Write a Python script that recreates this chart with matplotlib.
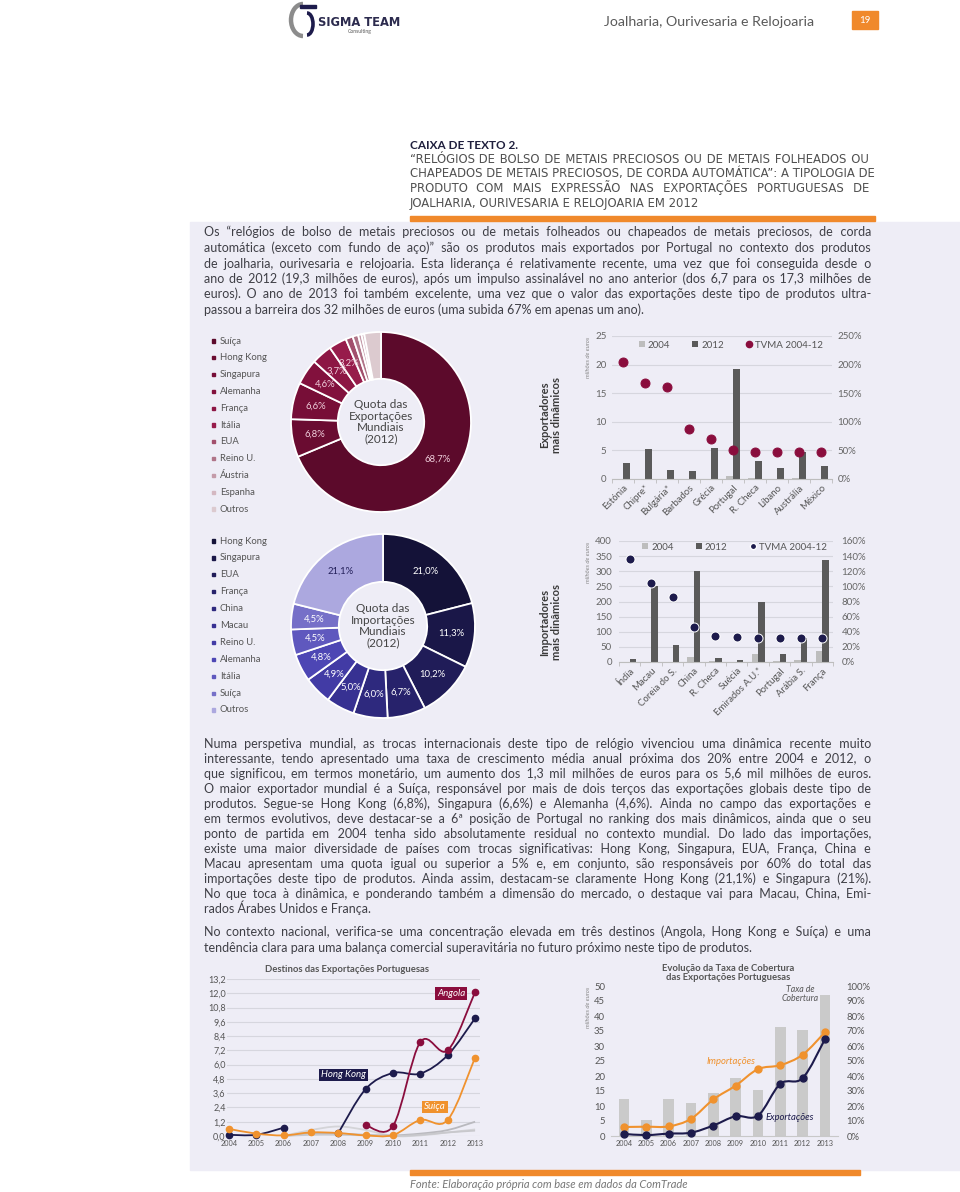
import numpy as np
import matplotlib
matplotlib.use('Agg')
import matplotlib.pyplot as plt
from matplotlib.patches import Rectangle, Arc, PathPatch, Patch
from matplotlib.path import Path
from matplotlib.lines import Line2D
from matplotlib.font_manager import FontProperties

W, H = 960, 1192
nan = np.nan

# ---------------- data ----------------
exp_share_names = ['Suíça', 'Hong Kong', 'Singapura', 'Alemanha', 'França', 'Itália',
                   'EUA', 'Reino U.', 'Áustria', 'Espanha', 'Outros']
exp_share_vals = [68.7, 6.8, 6.6, 4.6, 3.7, 3.2, 1.3, 1.0, 0.6, 0.5, 3.0]
exp_share_labels = ['68,7%', '6,8%', '6,6%', '4,6%', '3,7%', '3,2%', '', '', '', '', '']

imp_share_names = ['Hong Kong', 'Singapura', 'EUA', 'França', 'China', 'Macau',
                   'Reino U.', 'Alemanha', 'Itália', 'Suíça', 'Outros']
imp_share_vals = [21.0, 11.3, 10.2, 6.7, 6.0, 5.0, 4.9, 4.8, 4.5, 4.5, 21.1]
imp_share_labels = ['21,0%', '11,3%', '10,2%', '6,7%', '6,0%', '5,0%',
                    '4,9%', '4,8%', '4,5%', '4,5%', '21,1%']

exp_countries = ['Estónia', 'Chipre*', 'Bulgária*', 'Barbados', 'Grécia', 'Portugal',
                 'R. Checa', 'Líbano', 'Austrália', 'México']
exp_2004 = [0.0, 0.0, 0.0, 0.0, 0.05, 0.6, 0.1, 0.0, 0.15, 0.05]
exp_2012 = [2.8, 5.2, 1.5, 1.4, 5.4, 19.3, 3.2, 1.9, 4.8, 2.3]
exp_tvma = [204, 167, 160, 87, 70, 51, 48, 48, 48, 48]

imp_countries = ['Índia', 'Macau', 'Coreia do S.', 'China', 'R. Checa', 'Suécia',
                 'Emirados A.U.*', 'Portugal', 'Arábia S.', 'França']
imp_2004 = [1, 0, 0, 15, 2, 1, 28, 2, 8, 37]
imp_2012 = [10, 250, 57, 300, 12, 7, 200, 28, 78, 337]
imp_tvma = [136, 105, 86, 46, 35, 33, 32, 32, 32, 32]

years = list(range(2004, 2014))
dest_hk = [0.1, 0.1, 0.7, nan, 0.25, 3.95, 5.3, 5.25, 6.8, 9.9]
dest_angola = [nan, nan, nan, nan, nan, 0.9, 0.85, 7.9, 7.2, 12.1]
dest_suica = [0.6, 0.2, 0.05, 0.3, 0.25, 0.05, 0.08, 1.35, 1.35, 6.6]
dest_other1 = [nan, nan, 0.0, 0.5, 0.8, 0.5, 0.0, 0.05, 0.3, 0.55]
dest_other2 = [nan, nan, 0.0, 0.2, 0.2, 0.1, 0.05, 0.2, 0.5, 1.2]
dest_other3 = [nan, nan, 0.0, 0.1, 0.1, 0.05, 0.0, 0.1, 0.3, 0.45]

cob_rate = [25, 11, 25, 22, 29, 39, 31, 73, 71, 94]
cob_imp = [3.0, 3.1, 3.2, 5.7, 12.2, 16.8, 22.3, 23.6, 27.1, 34.6]
cob_exp = [0.7, 0.3, 0.8, 1.1, 3.5, 6.6, 6.8, 17.4, 19.3, 32.3]

# ---------------- text ----------------
title_lines = [
    '“RELÓGIOS DE BOLSO DE METAIS PRECIOSOS OU DE METAIS FOLHEADOS OU',
    'CHAPEADOS DE METAIS PRECIOSOS, DE CORDA AUTOMÁTICA”: A TIPOLOGIA DE',
    'PRODUTO COM MAIS EXPRESSÃO NAS EXPORTAÇÕES PORTUGUESAS DE',
    'JOALHARIA, OURIVESARIA E RELOJOARIA EM 2012',
]
para1 = [
    'Os “relógios de bolso de metais preciosos ou de metais folheados ou chapeados de metais preciosos, de corda',
    'automática (exceto com fundo de aço)” são os produtos mais exportados por Portugal no contexto dos produtos',
    'de joalharia, ourivesaria e relojoaria. Esta liderança é relativamente recente, uma vez que foi conseguida desde o',
    'ano de 2012 (19,3 milhões de euros), após um impulso assinalável no ano anterior (dos 6,7 para os 17,3 milhões de',
    'euros). O ano de 2013 foi também excelente, uma vez que o valor das exportações deste tipo de produtos ultra-',
    'passou a barreira dos 32 milhões de euros (uma subida 67% em apenas um ano).',
]
para2 = [
    'Numa perspetiva mundial, as trocas internacionais deste tipo de relógio vivenciou uma dinâmica recente muito',
    'interessante, tendo apresentado uma taxa de crescimento média anual próxima dos 20% entre 2004 e 2012, o',
    'que significou, em termos monetário, um aumento dos 1,3 mil milhões de euros para os 5,6 mil milhões de euros.',
    'O maior exportador mundial é a Suíça, responsável por mais de dois terços das exportações globais deste tipo de',
    'produtos. Segue-se Hong Kong (6,8%), Singapura (6,6%) e Alemanha (4,6%). Ainda no campo das exportações e',
    'em termos evolutivos, deve destacar-se a 6ª posição de Portugal no ranking dos mais dinâmicos, ainda que o seu',
    'ponto de partida em 2004 tenha sido absolutamente residual no contexto mundial. Do lado das importações,',
    'existe uma maior diversidade de países com trocas significativas: Hong Kong, Singapura, EUA, França, China e',
    'Macau apresentam uma quota igual ou superior a 5% e, em conjunto, são responsáveis por 60% do total das',
    'importações deste tipo de produtos. Ainda assim, destacam-se claramente Hong Kong (21,1%) e Singapura (21%).',
    'No que toca à dinâmica, e ponderando também a dimensão do mercado, o destaque vai para Macau, China, Emi-',
    'rados Árabes Unidos e França.',
]
para3 = [
    'No contexto nacional, verifica-se uma concentração elevada em três destinos (Angola, Hong Kong e Suíça) e uma',
    'tendência clara para uma balança comercial superavitária no futuro próximo neste tipo de produtos.',
]

# ---------------- colours ----------------
lavender = '#eeedf6'
orange = '#f0892b'
navy = '#1d1b4c'
maroon = '#8a0d3d'
txt = '#3f3f46'
grid_c = '#d6d6de'
exp_colors = ['#5c0a2b', '#6a0c31', '#770e37', '#82113d', '#8d1644', '#971c4b',
              '#a24f6c', '#b07488', '#c49ba9', '#d4b8c1', '#dccacf']
imp_colors = ['#141238', '#1a1748', '#201c58', '#27226b', '#2e297e', '#373192',
              '#423ba5', '#4d46b4', '#5f58be', '#7670c8', '#aca8df']
imp_label_c = ['#ffffff'] * 10 + ['#23205a']

fig = plt.figure(figsize=(W / 100, H / 100), dpi=100)
fig.patch.set_facecolor('white')
bg = fig.add_axes([0, 0, 1, 1])
bg.set_xlim(0, W)
bg.set_ylim(H, 0)
bg.axis('off')
renderer = fig.canvas.get_renderer()
HAIR = '\u200a'


def px_axes(x0, y0, x1, y1):
    ax = fig.add_axes([x0 / W, 1 - y1 / H, (x1 - x0) / W, (y1 - y0) / H])
    ax.set_facecolor('none')
    return ax


def text_w(s, fp):
    w, h, d = renderer.get_text_width_height_descent(s, fp, ismath=False)
    return w


def paragraph(lines, x0, x1, y0, dy, fp, color):
    # justified lines (space padded with hair spaces), last line left aligned
    hw = (text_w('a' + HAIR * 20 + 'a', fp) - text_w('aa', fp)) / 20
    for i, line in enumerate(lines):
        y = y0 + i * dy
        out = line
        if i < len(lines) - 1 and hw > 0.2:
            words = line.split(' ')
            n = len(words) - 1
            extra = max(0, int(round((x1 - x0 - text_w(line, fp)) / hw)))
            out = words[0]
            for k in range(n):
                cnt = extra * (k + 1) // n - extra * k // n
                out += ' ' + HAIR * cnt + words[k + 1]
        bg.text(x0, y, out, fontproperties=fp, color=color, va='baseline', ha='left')


# ---------------- page furniture ----------------
bg.add_patch(Rectangle((190, 222), W - 190, 948, color=lavender, zorder=0))
bg.add_patch(Rectangle((410, 216), 465, 5, color=orange, zorder=1))
bg.add_patch(Rectangle((410, 1170), 450, 5, color=orange, zorder=1))
bg.add_patch(Rectangle((852, 11), 26, 18, color=orange, zorder=1))
bg.text(865, 20.5, '19', color='white', fontsize=7, ha='center', va='center', family='Lato')
bg.text(604, 22, 'Joalharia, Ourivesaria e Relojoaria', color='#5a5a5a', fontsize=10.2,
        family='Lato', va='center')

# logo
bg.add_patch(Arc((303, 20), 24, 32, theta1=90, theta2=270, lw=3.2, color='#8c8c8c'))
bg.add_patch(Rectangle((300, 5), 16, 3, color=navy))
bg.add_patch(Arc((307, 24), 12, 22, theta1=-90, theta2=90, lw=2.6, color=navy))
bg.text(318, 26, 'SIGMA TEAM', color='#2c2b4e', fontsize=8.3, weight='bold',
        family='Liberation Sans Narrow', va='baseline')
bg.text(372, 33, 'Consulting', color='#555555', fontsize=3.6, family='Lato', ha='right',
        va='baseline')

bg.text(410, 149, 'CAIXA DE TEXTO 2.', color='#1f1f3d', fontsize=8.5, weight='bold',
        family='Lato', va='baseline')
title_fp = FontProperties(family=['Liberation Sans Narrow', 'DejaVu Sans'], size=8.4)
paragraph(title_lines, 410, 869, 163, 14.5, title_fp, '#505050')

body_fp = FontProperties(family=['Lato', 'DejaVu Sans'], size=9)
paragraph(para1, 204, 871, 236.5, 15.5, body_fp, txt)
paragraph(para2, 204, 871, 748.5, 14.95, body_fp, txt)
paragraph(para3, 204, 871, 936, 15.5, body_fp, txt)

bg.text(410, 1185, 'Fonte: Elaboração própria com base em dados da ComTrade', color='#777777',
        fontsize=8, style='italic', family='Lato', va='center')


# ---------------- donuts ----------------
def donut(cx, cy, r, vals, colors, labels, label_colors, center_text):
    ax = px_axes(cx - r, cy - r, cx + r, cy + r)
    wedges, _ = ax.pie(vals, colors=colors, startangle=90, counterclock=False, radius=1,
                       wedgeprops=dict(width=0.52, edgecolor='white', linewidth=1.3))
    for w in wedges:
        w.set_clip_on(False)
    ax.set_xlim(-1, 1)
    ax.set_ylim(-1, 1)
    ax.set_aspect('equal')
    ax.axis('off')
    for w, lab, lc in zip(wedges, labels, label_colors):
        if not lab:
            continue
        ang = np.deg2rad((w.theta1 + w.theta2) / 2)
        ax.text(0.75 * np.cos(ang), 0.75 * np.sin(ang), lab, color=lc, fontsize=6.8,
                ha='center', va='center', family='Lato')
    ax.text(0, 0, center_text, ha='center', va='center', fontsize=8.5, color='#444444',
            family='Lato', linespacing=1.05)


def legend_list(names, colors, x, y0, dy):
    for i, (n, c) in enumerate(zip(names, colors)):
        y = y0 + i * dy
        bg.add_patch(Rectangle((x, y - 1.6), 3.2, 3.2, color=c, zorder=2))
        bg.text(x + 8, y, n, color='#555555', fontsize=6.8, family='Lato', va='center')


donut(381, 422, 90, exp_share_vals, exp_colors, exp_share_labels,
      ['#f0cfdc'] * 11, 'Quota das\nExportações\nMundiais\n(2012)')
legend_list(exp_share_names, exp_colors, 212, 341, 16.8)

donut(383, 626, 92, imp_share_vals, imp_colors, imp_share_labels, imp_label_c,
      'Quota das\nImportações\nMundiais\n(2012)')
legend_list(imp_share_names, imp_colors, 212, 541, 16.9)


# ---------------- bar charts ----------------
def bar_chart(box, cats, v04, v12, tvma, ymax, ystep, pmax, pstep, dot_c, dot_edge,
              leg_y, side_label, side_y, pad_l, pad_r):
    ax = px_axes(*box)
    x = np.arange(len(cats))
    bw = 0.3
    ax.bar(x - bw, v04, bw, align='edge', color='#bdbdbd', zorder=2)
    ax.bar(x, v12, bw, align='edge', color='#5a5a5a', zorder=2)
    ax.set_xlim(-0.5, len(cats) - 0.5)
    ax.set_ylim(0, ymax)
    ax.set_yticks(np.arange(0, ymax + 0.1, ystep))
    ax.grid(axis='y', color=grid_c, lw=0.8)
    ax.set_axisbelow(True)
    for s in ['top', 'right', 'left']:
        ax.spines[s].set_visible(False)
    ax.spines['bottom'].set_color('#bdbdbd')
    ax.set_xticks(x)
    ax.set_xticklabels(cats, rotation=45, ha='right', rotation_mode='anchor',
                       fontsize=6.9, color='#555555', family='Lato')
    ax.set_xticks(np.arange(-0.5, len(cats)), minor=True)
    ax.tick_params(axis='x', which='major', length=0, pad=3)
    ax.tick_params(axis='x', which='minor', length=3, color='#bdbdbd')
    ax.tick_params(axis='y', length=0, labelsize=7, labelcolor='#666666', pad=pad_l)
    for t in ax.get_yticklabels():
        t.set_family('Lato')

    ax2 = ax.twinx()
    ax2.set_facecolor('none')
    ax2.scatter(x, tvma, s=42, color=dot_c, edgecolor=dot_edge, linewidth=0.7, zorder=3,
                clip_on=False)
    ax2.set_ylim(0, pmax)
    ax2.set_yticks(np.arange(0, pmax + 0.1, pstep))
    ax2.set_yticklabels([f'{int(v)}%' for v in np.arange(0, pmax + 0.1, pstep)],
                        family='Lato')
    ax2.tick_params(axis='y', length=0, labelsize=7, labelcolor='#666666', pad=pad_r)
    for s in ax2.spines.values():
        s.set_visible(False)

    handles = [Patch(facecolor='#bdbdbd'), Patch(facecolor='#5a5a5a'),
               Line2D([], [], marker='o', ls='none', markerfacecolor=dot_c,
                      markeredgecolor=dot_edge, markersize=4.5)]
    ax.legend(handles, ['2004', '2012', 'TVMA 2004-12'], ncol=3, frameon=False,
              loc='center', bbox_to_anchor=(0.54, leg_y), handlelength=0.6,
              handleheight=0.6, handletextpad=0.3, columnspacing=2.3,
              labelcolor='#555555', prop={'family': 'Lato', 'size': 7})

    x0, y0, x1, y1 = box
    bg.text(551, side_y, side_label, rotation=90, ha='center', va='center', fontsize=8,
            weight='bold', color='#3a3a3a', family='Lato', linespacing=1.1)
    bg.text(589, y0 + 1, 'milhões de euros', rotation=90, ha='center', va='top',
            fontsize=4.3, style='italic', color='#888888', family='Lato')


bar_chart((612, 336, 832, 479), exp_countries, exp_2004, exp_2012, exp_tvma,
          25, 5, 250, 50, maroon, maroon, 0.937, 'Exportadores\nmais dinâmicos', 415, 4, 4)
bar_chart((619, 541, 833, 662), imp_countries, imp_2004, imp_2012, imp_tvma,
          400, 50, 160, 20, navy, 'white', 0.95, 'Importadores\nmais dinâmicos', 622, 5, 6)


# ---------------- line charts ----------------
def smooth_path(xs, ys):
    xs = np.asarray(xs, float)
    ys = np.asarray(ys, float)
    idx = np.where(~np.isnan(ys))[0]
    runs = np.split(idx, np.where(np.diff(idx) > 1)[0] + 1)
    verts, codes = [], []
    for run in runs:
        if len(run) < 2:
            continue
        p = np.column_stack([xs[run], ys[run]])
        n = len(p)
        verts.append(p[0])
        codes.append(Path.MOVETO)
        for i in range(n - 1):
            p0, p1 = p[max(i - 1, 0)], p[i]
            p2, p3 = p[i + 1], p[min(i + 2, n - 1)]
            verts += [p1 + (p2 - p0) / 6, p2 - (p3 - p1) / 6, p2]
            codes += [Path.CURVE4] * 3
    return Path(verts, codes)


def smooth_line(ax, xs, ys, color, lw, ms, z, markers=True):
    ax.add_patch(PathPatch(smooth_path(xs, ys), facecolor='none', edgecolor=color, lw=lw,
                           zorder=z, clip_on=False))
    if markers:
        ax.plot(xs, ys, 'o', color=color, markersize=ms, zorder=z + 0.5, clip_on=False)


xi = np.arange(len(years))

# destinos
ax = px_axes(227, 979, 480, 1136)
ax.set_xlim(-0.07, 9.18)
ax.set_ylim(0, 13.2)
yt = np.arange(0, 13.21, 1.2)
ax.set_yticks(yt)
ax.set_yticklabels([f'{v:.1f}'.replace('.', ',') for v in yt], family='Lato')
ax.grid(axis='y', color=grid_c, lw=0.8)
ax.set_axisbelow(True)
for s in ax.spines.values():
    s.set_visible(False)
ax.set_xticks(xi)
ax.set_xticklabels([str(y) for y in years], family='Lato')
ax.tick_params(axis='y', length=0, labelsize=6.5, labelcolor='#555555', pad=1)
ax.tick_params(axis='x', length=0, labelsize=5.3, labelcolor='#555555', pad=3)
smooth_line(ax, xi, dest_other1, '#d4d4d8', 1.3, 0, 2, markers=False)
smooth_line(ax, xi, dest_other2, '#b9b9be', 1.3, 0, 2, markers=False)
smooth_line(ax, xi, dest_other3, '#c8c8cc', 1.3, 0, 2, markers=False)
smooth_line(ax, xi, dest_hk, navy, 1.3, 4.5, 3)
smooth_line(ax, xi, dest_angola, maroon, 1.3, 4.5, 4)
smooth_line(ax, xi, dest_suica, '#f0922e', 1.3, 4.5, 5)
box_kw = dict(boxstyle='square,pad=0.2', lw=0)
ax.text(8.12, 12.0, 'Angola', color='white', fontsize=7, style='italic', family='Lato',
        ha='center', va='center', bbox=dict(facecolor=maroon, **box_kw), zorder=6)
ax.text(4.2, 5.13, 'Hong Kong', color='white', fontsize=7, style='italic', family='Lato',
        ha='center', va='center', bbox=dict(facecolor=navy, **box_kw), zorder=6)
ax.text(7.54, 2.44, 'Suiça', color='white', fontsize=7, style='italic', family='Lato',
        ha='center', va='center', bbox=dict(facecolor='#f0922e', **box_kw), zorder=6)
bg.text(347, 969, 'Destinos das Exportações Portuguesas', ha='center', va='center',
        fontsize=6.8, weight='bold', color='#555555', family='Lato')

# taxa de cobertura
ax = px_axes(610.6, 986, 838.4, 1136)
ax2 = ax.twinx()
ax2.bar(xi, cob_rate, 0.48, color='#cacaca', zorder=1)
ax2.set_ylim(0, 100)
ax2.set_yticks(np.arange(0, 101, 10))
ax2.set_yticklabels([f'{v}%' for v in range(0, 101, 10)], family='Lato')
ax2.tick_params(axis='y', length=0, labelsize=6.8, labelcolor='#555555', pad=6)
ax.set_zorder(ax2.get_zorder() + 1)
ax.patch.set_visible(False)
ax.set_xlim(-0.6, 9.6)
ax.set_ylim(0, 50)
ax.set_yticks(np.arange(0, 51, 5))
ax.set_yticklabels([str(v) for v in range(0, 51, 5)], family='Lato')
ax.tick_params(axis='y', length=0, labelsize=6.8, labelcolor='#555555', pad=4)
ax.set_xticks(xi)
ax.set_xticklabels([str(y) for y in years], family='Lato')
ax.tick_params(axis='x', length=0, labelsize=5.3, labelcolor='#555555', pad=3)
for a in (ax, ax2):
    for s in a.spines.values():
        s.set_visible(False)
ax2.spines['bottom'].set_visible(True)
ax2.spines['bottom'].set_color('#c8c8c8')
smooth_line(ax, xi, cob_imp, '#f0922e', 1.5, 5, 3)
smooth_line(ax, xi, cob_exp, navy, 1.5, 5, 4)
# series labels drawn in page pixels, on top of the bars
lab_kw = dict(transform=bg.transData, style='italic', family='Lato', ha='center',
              va='center', clip_on=False, zorder=6)
ax.text(731, 1062, 'Importações', color='#f0922e', fontsize=6.8, **lab_kw)
ax.text(790, 1117, 'Exportações', color=navy, fontsize=6.8, **lab_kw)
ax.text(800, 994, 'Taxa de\nCobertura', color='#555555', fontsize=6.3, linespacing=1.0,
        **lab_kw)
bg.text(728, 973, 'Evolução da Taxa de Cobertura\ndas Exportações Portuguesas',
        ha='center', va='center', fontsize=6.8, weight='bold', color='#555555',
        family='Lato', linespacing=1.05)
bg.text(588, 987, 'milhões de euros', rotation=90, ha='center', va='top', fontsize=4.3,
        style='italic', color='#888888', family='Lato')

fig.savefig('out.png', dpi=100, facecolor='white')
